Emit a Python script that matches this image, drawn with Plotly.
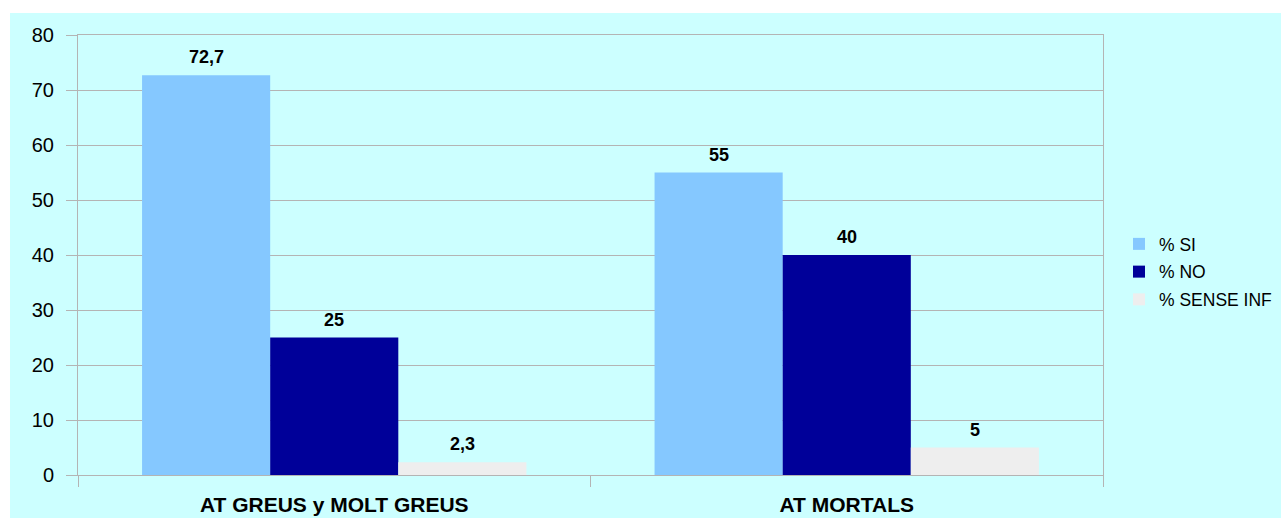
import plotly.graph_objects as go

# Survey results by accident severity
categories = ["AT GREUS y MOLT GREUS", "AT MORTALS"]
series_names = ["% SI", "% NO", "% SENSE INF"]
pct_si = [72.7, 55]
pct_no = [25, 40]
pct_sense_inf = [2.3, 5]
y_ticks = [0, 10, 20, 30, 40, 50, 60, 70, 80]

series_values = [pct_si, pct_no, pct_sense_inf]
colors = ["#85C8FF", "#000099", "#EEEEEE"]

W, H = 1281, 518
ML, MR, MT, MB = 78, 178, 35, 43
PW, PH = W - ML - MR, H - MT - MB

FONT = "Liberation Sans, Arial, sans-serif"
GRID = "#B4B4B4"
BG = "#CCFFFF"

fig = go.Figure()
for i, (name, vals, col) in enumerate(zip(series_names, series_values, colors)):
    fig.add_trace(go.Bar(
        x=categories, y=vals, name=name,
        marker=dict(color=col, line=dict(width=0)),
        legendgroup=f"g{i}",
    ))

# value labels above each bar (comma as decimal separator)
annotations = []
n = len(series_values)
group_frac = 0.75
bar_w = group_frac / n
for j, vals in enumerate(series_values):
    for i, v in enumerate(vals):
        annotations.append(dict(
            x=i - group_frac / 2 + bar_w * (j + 0.5), y=v,
            xref="x", yref="y",
            text=f"{v:g}".replace(".", ","),
            showarrow=False, yanchor="bottom", yshift=6,
            font=dict(family=FONT, size=18, color="#000000", weight="bold"),
        ))

def px_x(p):
    return (p - ML) / PW

def px_y(p):
    return (H - MB - p) / PH

fig.update_layout(
    width=W, height=H,
    margin=dict(l=ML, r=MR, t=MT, b=MB, autoexpand=False),
    paper_bgcolor="#FFFFFF",
    plot_bgcolor=BG,
    barmode="group",
    bargap=0.25,
    bargroupgap=0,
    font=dict(family=FONT, color="#000000"),
    annotations=annotations,
    shapes=[dict(
        type="rect", xref="paper", yref="paper", layer="below",
        x0=px_x(10), x1=px_x(W + 5), y0=px_y(H + 5), y1=px_y(13),
        fillcolor=BG, line=dict(width=0),
    )],
    legend=dict(
        x=px_x(1119), xanchor="left",
        y=px_y(272), yanchor="middle",
        font=dict(family=FONT, size=17.5, color="#000000"),
        bgcolor="rgba(0,0,0,0)",
        tracegroupgap=2,
        itemwidth=30,
    ),
    xaxis=dict(
        type="category",
        tickson="boundaries",
        ticks="outside", ticklen=11, tickcolor=GRID, tickwidth=1,
        showline=True, linecolor=GRID, linewidth=1, mirror=True,
        showgrid=False,
        ticklabelstandoff=11,
        tickfont=dict(family=FONT, size=21, color="#000000", weight="bold"),
    ),
    yaxis=dict(
        range=[0, 80],
        tickvals=y_ticks,
        ticks="outside", ticklen=11, tickcolor=GRID, tickwidth=1,
        showline=True, linecolor=GRID, linewidth=1, mirror=True,
        showgrid=True, gridcolor=GRID, gridwidth=1,
        zeroline=False,
        ticklabelstandoff=8,
        tickfont=dict(family=FONT, size=20, color="#000000"),
    ),
)

fig.write_html("out.html")
